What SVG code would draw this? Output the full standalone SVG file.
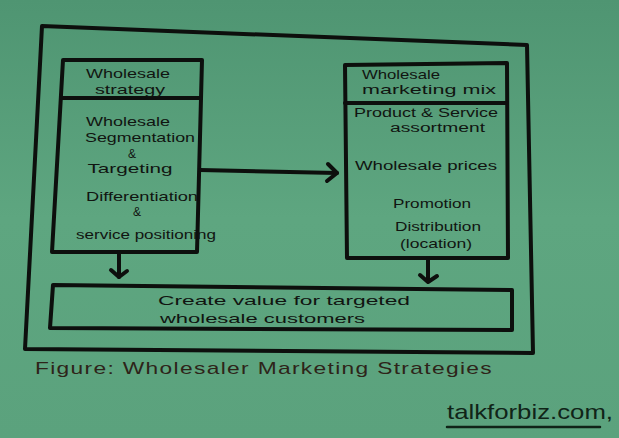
<svg xmlns="http://www.w3.org/2000/svg" width="619" height="438" viewBox="0 0 619 438">
<defs>
<linearGradient id="bg" x1="0" y1="0" x2="0" y2="1">
<stop offset="0" stop-color="#4f9572"/>
<stop offset="0.5" stop-color="#5ea680"/>
<stop offset="1" stop-color="#5ba27d"/>
</linearGradient>
<style>
.ln{fill:none;stroke:#0d0f0d;stroke-width:4;stroke-linejoin:round;stroke-linecap:round}
.t{font-family:"Liberation Sans",Arial,sans-serif;font-size:13px;fill:#111511}
.s{font-size:12px}
.c{text-anchor:middle}
.cap{font-family:"Liberation Sans",Arial,sans-serif;font-size:17px;fill:#2e2419;letter-spacing:1px}
.wm{font-family:"Liberation Sans",Arial,sans-serif;font-size:21px;fill:#102418}
</style>
</defs>
<rect width="619" height="438" fill="url(#bg)"/>
<g id="frame">
<path class="ln" d="M42,26 L527,45 L533,353 L25,349 Z"/>
</g>
<g id="wholesale-strategy">
<path class="ln" d="M63,60 L202,60 L197,252 L52,252 Z"/>
<path class="ln" d="M61,98 L201,98"/>
<text class="t c" x="128" y="78" textLength="84" lengthAdjust="spacingAndGlyphs">Wholesale</text>
<text class="t c" x="130" y="94" textLength="70" lengthAdjust="spacingAndGlyphs">strategy</text>
<text class="t c" x="128" y="126" textLength="84" lengthAdjust="spacingAndGlyphs">Wholesale</text>
<text class="t c" x="140" y="142" textLength="110" lengthAdjust="spacingAndGlyphs">Segmentation</text>
<text class="t s c" x="132" y="158">&amp;</text>
<text class="t c" x="130" y="173" textLength="85" lengthAdjust="spacingAndGlyphs">Targeting</text>
<text class="t c" x="142" y="201" textLength="112" lengthAdjust="spacingAndGlyphs">Differentiation</text>
<text class="t s c" x="137" y="216">&amp;</text>
<text class="t" x="76" y="239" textLength="140" lengthAdjust="spacingAndGlyphs">service positioning</text>
</g>
<g id="wholesale-marketing-mix">
<path class="ln" d="M345,65 L507,63 L508,258 L347,258 Z"/>
<path class="ln" d="M345,103 L507,103"/>
<text class="t" x="362" y="79" textLength="78" lengthAdjust="spacingAndGlyphs">Wholesale</text>
<text class="t" x="362" y="94" textLength="134" lengthAdjust="spacingAndGlyphs">marketing mix</text>
<text class="t s" x="354" y="117" textLength="144" lengthAdjust="spacingAndGlyphs">Product &amp; Service</text>
<text class="t s" x="390" y="132" textLength="95" lengthAdjust="spacingAndGlyphs">assortment</text>
<text class="t" x="355" y="170" textLength="142" lengthAdjust="spacingAndGlyphs">Wholesale prices</text>
<text class="t" x="393" y="208" textLength="78" lengthAdjust="spacingAndGlyphs">Promotion</text>
<text class="t" x="395" y="231" textLength="86" lengthAdjust="spacingAndGlyphs">Distribution</text>
<text class="t" x="400" y="248" textLength="72" lengthAdjust="spacingAndGlyphs">(location)</text>
</g>
<g id="create-value">
<path class="ln" d="M53,285 L512,290 L512,330 L50,328 Z"/>
<text class="t" x="158" y="305" textLength="252" lengthAdjust="spacingAndGlyphs">Create value for targeted</text>
<text class="t" x="160" y="323" textLength="205" lengthAdjust="spacingAndGlyphs">wholesale customers</text>
</g>
<g id="connectors">
<path class="ln" d="M200,170 L337,173"/>
<path class="ln" d="M328,164 L337,173 L327,181"/>
<path class="ln" d="M119,252 L119,277"/>
<path class="ln" d="M111,270 L119,277 L127,271"/>
<path class="ln" d="M428,258 L428,281"/>
<path class="ln" d="M420,275 L428,282 L437,276"/>
</g>
<g id="caption">
<text class="cap" x="35" y="374" textLength="458" lengthAdjust="spacingAndGlyphs">Figure: Wholesaler Marketing Strategies</text>
</g>
<g id="watermark">
<text class="wm" x="447" y="419" textLength="166" lengthAdjust="spacingAndGlyphs">talkforbiz.com,</text>
<path d="M447,427 L600,427" fill="none" stroke="#102418" stroke-width="2.5" stroke-linecap="round"/>
</g>
</svg>
